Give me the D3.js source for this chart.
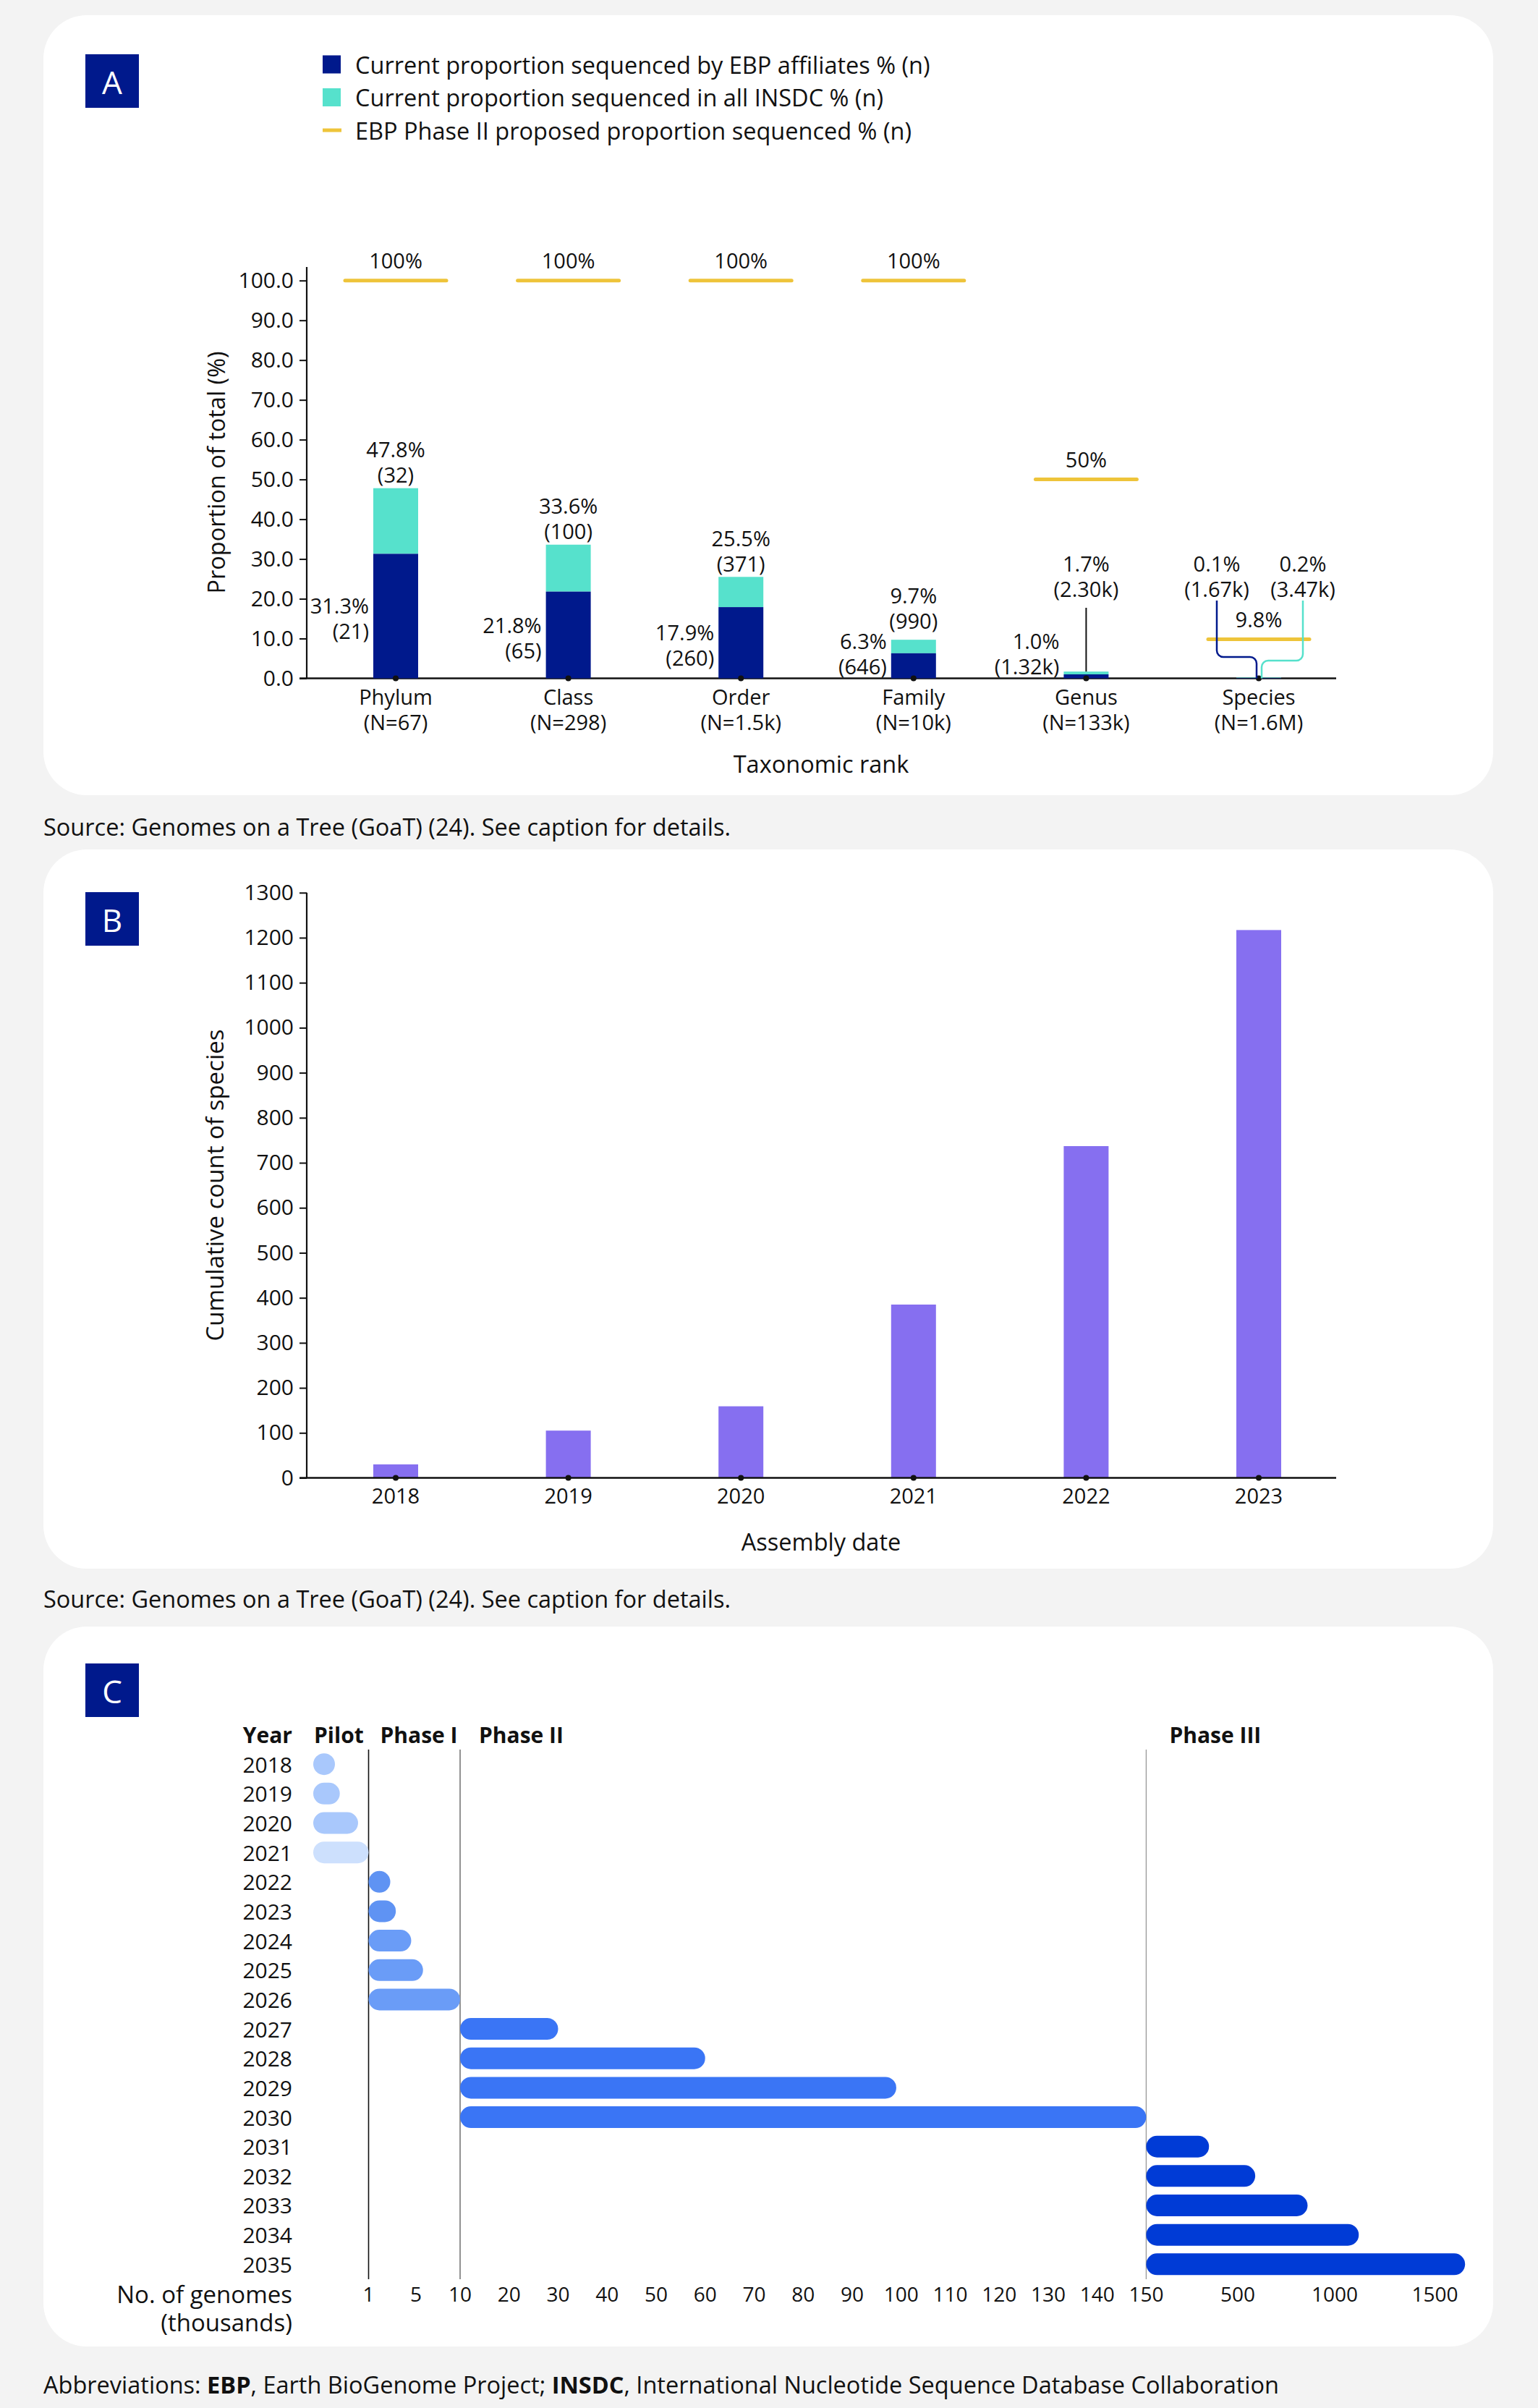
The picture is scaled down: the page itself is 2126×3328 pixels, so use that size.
<!doctype html>
<html>
<head>
<meta charset="utf-8">
<title>EBP progress and roadmap</title>
<style type="text/css">
body { margin: 0; background: #f3f3f3; }
svg { display: block; font-family: "Open Sans", sans-serif; }
</style>
<script src="https://cdnjs.cloudflare.com/ajax/libs/d3/7.8.5/d3.min.js"></script>
</head>
<body>
<script type="text/javascript">
var width = 2126, height = 3328;

// Panel A data
var ranks = ["Phylum", "Class", "Order", "Family", "Genus", "Species"];
var rankN = ["(N=67)", "(N=298)", "(N=1.5k)", "(N=10k)", "(N=133k)", "(N=1.6M)"];
var ebpPct = [31.3, 21.8, 17.9, 6.3, 1.0, 0.1];
var ebpN = ["21", "65", "260", "646", "1.32k", "1.67k"];
var insdcPct = [47.8, 33.6, 25.5, 9.7, 1.7, 0.2];
var insdcN = ["32", "100", "371", "990", "2.30k", "3.47k"];
var targetPct = [100, 100, 100, 100, 50, 9.8];
var pctTicks = [0, 10, 20, 30, 40, 50, 60, 70, 80, 90, 100];
var legendA = ["Current proportion sequenced by EBP affiliates % (n)",
               "Current proportion sequenced in all INSDC % (n)",
               "EBP Phase II proposed proportion sequenced % (n)"];

// Panel B data
var assemblyYears = ["2018", "2019", "2020", "2021", "2022", "2023"];
var speciesCount = [30, 105, 159, 385, 737, 1217];
var countTicks = [0, 100, 200, 300, 400, 500, 600, 700, 800, 900, 1000, 1100, 1200, 1300];

// Panel C data
var planYears = ["2018", "2019", "2020", "2021", "2022", "2023", "2024", "2025", "2026",
                 "2027", "2028", "2029", "2030", "2031", "2032", "2033", "2034", "2035"];
var planPhase = ["Pilot", "Pilot", "Pilot", "Pilot", "Phase I", "Phase I", "Phase I", "Phase I", "Phase I",
                 "Phase II", "Phase II", "Phase II", "Phase II", "Phase III", "Phase III", "Phase III", "Phase III", "Phase III"];
var planGenomes = [0.38, 0.48, 0.81, 1.0, 2.8, 3.3, 4.6, 5.8, 10,
                   30, 60, 99, 150, 390, 590, 860, 1120, 1650];
var phases = ["Pilot", "Phase I", "Phase II", "Phase III"];
var phaseStart = [0, 1, 10, 150];
var genomeTicks = [1, 5, 10, 20, 30, 40, 50, 60, 70, 80, 90, 100, 110, 120, 130, 140, 150, 500, 1000, 1500];

var navy = "#00198c", teal = "#56e1cc", gold = "#eec43a", purple = "#866ff0";
var phaseColour = { "Pilot": "#a9c8fc", "Phase I": "#6a9cf7", "Phase II": "#3a75f5", "Phase III": "#003bd6" };
var yearColour = { "2021": "#cde0fd", "2022": "#5f93f3", "2023": "#5f93f3" };

var svg = d3.select("body").append("svg")
    .attr("width", width)
    .attr("height", height);

svg.append("rect").attr("width", width).attr("height", height).attr("fill", "#f3f3f3");

// white cards
[[21, 1099], [1174, 2168], [2248, 3243]].forEach(function(c) {
  svg.append("rect")
    .attr("x", 60).attr("y", c[0])
    .attr("width", 2004).attr("height", c[1] - c[0])
    .attr("rx", 60).attr("fill", "#fff");
});

// panel letters
[["A", 75], ["B", 1233], ["C", 2299]].forEach(function(p) {
  svg.append("rect").attr("x", 118).attr("y", p[1]).attr("width", 74).attr("height", 74).attr("fill", navy);
  svg.append("text").attr("x", 155).attr("y", p[1] + 38)
    .attr("text-anchor", "middle").attr("dominant-baseline", "central")
    .attr("fill", "#fff").style("font-size", "44px").text(p[0]);
});

function note(y, parts) {
  var t = svg.append("text").attr("x", 60).attr("y", y)
    .attr("dominant-baseline", "central").style("font-size", "32.5px").attr("fill", "#111");
  parts.forEach(function(p) {
    t.append("tspan").style("font-weight", p[1] ? "700" : "400").text(p[0]);
  });
}
note(1142, [["Source: Genomes on a Tree (GoaT) (24). See caption for details.", false]]);
note(2209, [["Source: Genomes on a Tree (GoaT) (24). See caption for details.", false]]);
note(3295, [["Abbreviations: ", false], ["EBP", true], [", Earth BioGenome Project; ", false],
            ["INSDC", true], [", International Nucleotide Sequence Database Collaboration", false]]);

/* ---------------- Panel A ---------------- */
var gA = svg.append("g").style("font-size", "29px").attr("fill", "#111");
var xA = d3.scalePoint().domain(ranks).range([547, 1740]);
var yA = d3.scaleLinear().domain([0, 100]).range([937.5, 387.7]);
var barW = 62;

// legend
var leg = gA.append("g");
legendA.forEach(function(t, i) {
  var y = 89 + i * 45.5;
  if (i < 2) {
    leg.append("rect").attr("x", 446).attr("y", y - 12.5).attr("width", 25).attr("height", 25)
      .attr("fill", i === 0 ? navy : teal);
  } else {
    leg.append("line").attr("x1", 446).attr("x2", 472).attr("y1", y).attr("y2", y)
      .attr("stroke", gold).attr("stroke-width", 5);
  }
  leg.append("text").attr("x", 491).attr("y", y).attr("dominant-baseline", "central")
    .style("font-size", "32.5px").text(t);
});

var axA = gA.append("g").attr("transform", "translate(424,0)")
  .call(d3.axisLeft(yA).tickValues(pctTicks).tickFormat(d3.format(".1f")).tickSize(10).tickPadding(8));
axA.select(".domain").remove();
axA.selectAll("text").style("font-size", "30px").style("font-family", "Open Sans").attr("fill", "#111");
axA.selectAll("line").attr("stroke", "#111").attr("stroke-width", 2);
gA.append("line").attr("x1", 424).attr("x2", 424).attr("y1", 369).attr("y2", yA(0))
  .attr("stroke", "#111").attr("stroke-width", 2.2);
gA.append("line").attr("x1", 414).attr("x2", 1847).attr("y1", yA(0)).attr("y2", yA(0))
  .attr("stroke", "#111").attr("stroke-width", 2.5);

gA.append("text").attr("transform", "translate(298,653) rotate(-90)")
  .attr("text-anchor", "middle").attr("dominant-baseline", "central").style("font-size", "32.5px")
  .text("Proportion of total (%)");
gA.append("text").attr("x", 1135).attr("y", 1055).attr("text-anchor", "middle")
  .attr("dominant-baseline", "central").style("font-size", "32.5px").text("Taxonomic rank");

var cats = gA.selectAll(".cat").data(ranks).enter().append("g").attr("class", "cat");

cats.append("rect").attr("x", function(d) { return xA(d) - barW / 2; })
  .attr("y", function(d, i) { return yA(insdcPct[i]); })
  .attr("width", barW)
  .attr("height", function(d, i) { return yA(ebpPct[i]) - yA(insdcPct[i]); })
  .attr("fill", teal);
cats.append("rect").attr("x", function(d) { return xA(d) - barW / 2; })
  .attr("y", function(d, i) { return yA(ebpPct[i]); })
  .attr("width", barW)
  .attr("height", function(d, i) { return yA(0) - yA(ebpPct[i]); })
  .attr("fill", navy);

cats.append("circle").attr("cx", function(d) { return xA(d); }).attr("cy", yA(0)).attr("r", 4).attr("fill", "#111");

cats.append("text").attr("x", function(d) { return xA(d); }).attr("y", 962)
  .attr("text-anchor", "middle").attr("dominant-baseline", "central").text(function(d) { return d; });
cats.append("text").attr("x", function(d) { return xA(d); }).attr("y", 997)
  .attr("text-anchor", "middle").attr("dominant-baseline", "central").text(function(d, i) { return rankN[i]; });

// targets
cats.append("line")
  .attr("x1", function(d) { return xA(d) - 70; }).attr("x2", function(d) { return xA(d) + 70; })
  .attr("y1", function(d, i) { return yA(targetPct[i]); }).attr("y2", function(d, i) { return yA(targetPct[i]); })
  .attr("stroke", gold).attr("stroke-width", 5).attr("stroke-linecap", "round");
cats.append("text").attr("x", function(d) { return xA(d); })
  .attr("y", function(d, i) { return yA(targetPct[i]) - 28; })
  .attr("text-anchor", "middle").attr("dominant-baseline", "central")
  .text(function(d, i) { return targetPct[i] + "%"; });

function twoLine(g, x, yc, a, b, anchor) {
  g.append("text").attr("x", x).attr("y", yc - 17.5).attr("text-anchor", anchor)
    .attr("dominant-baseline", "central").text(a);
  g.append("text").attr("x", x).attr("y", yc + 17.5).attr("text-anchor", anchor)
    .attr("dominant-baseline", "central").text(b);
}

cats.each(function(d, i) {
  var g = d3.select(this), cx = xA(d);
  var split = ebpPct[i] < 0.5;
  if (!split) {
    var yc = Math.min(yA(ebpPct[i] / 2) + 3, 903);
    twoLine(g, cx - barW / 2 - 6, yc, ebpPct[i].toFixed(1) + "%", "(" + ebpN[i] + ")", "end");
  }
  if (insdcPct[i] >= 5) {
    // keep the total clear of the left-hand label on short bars
    var yt = Math.min(yA(insdcPct[i]) - 36.5, 840);
    twoLine(g, cx, yt, insdcPct[i].toFixed(1) + "%", "(" + insdcN[i] + ")", "middle");
  } else if (!split) {
    twoLine(g, cx, 796, insdcPct[i].toFixed(1) + "%", "(" + insdcN[i] + ")", "middle");
    g.append("line").attr("x1", cx).attr("x2", cx).attr("y1", 840).attr("y2", yA(insdcPct[i]))
      .attr("stroke", "#111").attr("stroke-width", 2);
  } else {
    // both values too small to see: call them out either side
    [[ebpN, ebpPct, -58, navy, 908, -3], [insdcN, insdcPct, 61, teal, 913, 4]].forEach(function(s) {
      var lx = cx + s[2];
      twoLine(g, lx, 796, s[1][i].toFixed(1) + "%", "(" + s[0][i] + ")", "middle");
      var p = d3.path(), xd = cx + s[5], r = 9;
      p.moveTo(lx, 830);
      p.arcTo(lx, s[4], xd, s[4], r);
      p.arcTo(xd, s[4], xd, yA(0), r);
      p.lineTo(xd, yA(0));
      g.append("path").attr("d", p.toString()).attr("fill", "none")
        .attr("stroke", s[3]).attr("stroke-width", 2.5);
    });
  }
});

/* ---------------- Panel B ---------------- */
var gB = svg.append("g").style("font-size", "29px").attr("fill", "#111");
var xB = d3.scalePoint().domain(assemblyYears).range([547, 1740]);
var yB = d3.scaleLinear().domain([0, 1300]).range([2042.5, 1233.75]);

gB.selectAll(".bar").data(speciesCount).enter().append("rect").attr("class", "bar")
  .attr("x", function(d, i) { return xB(assemblyYears[i]) - barW / 2; })
  .attr("y", function(d) { return yB(d); })
  .attr("width", barW)
  .attr("height", function(d) { return yB(0) - yB(d); })
  .attr("fill", purple);

var axB = gB.append("g").attr("transform", "translate(424,0)")
  .call(d3.axisLeft(yB).tickValues(countTicks).tickFormat(d3.format("d")).tickSize(10).tickPadding(8));
axB.select(".domain").remove();
axB.selectAll("text").style("font-size", "30px").style("font-family", "Open Sans").attr("fill", "#111");
axB.selectAll("line").attr("stroke", "#111").attr("stroke-width", 2);
gB.append("line").attr("x1", 424).attr("x2", 424).attr("y1", yB(1300)).attr("y2", yB(0))
  .attr("stroke", "#111").attr("stroke-width", 2.2);
gB.append("line").attr("x1", 414).attr("x2", 1847).attr("y1", yB(0)).attr("y2", yB(0))
  .attr("stroke", "#111").attr("stroke-width", 2.5);
gB.selectAll(".tk").data(assemblyYears).enter().append("circle")
  .attr("cx", function(d) { return xB(d); }).attr("cy", yB(0)).attr("r", 4).attr("fill", "#111");
gB.selectAll(".yl").data(assemblyYears).enter().append("text")
  .attr("x", function(d) { return xB(d); }).attr("y", 2066)
  .attr("text-anchor", "middle").attr("dominant-baseline", "central").text(function(d) { return d; });

gB.append("text").attr("transform", "translate(296,1638) rotate(-90)")
  .attr("text-anchor", "middle").attr("dominant-baseline", "central").style("font-size", "33px")
  .text("Cumulative count of species");
gB.append("text").attr("x", 1135).attr("y", 2130).attr("text-anchor", "middle")
  .attr("dominant-baseline", "central").style("font-size", "32.5px").text("Assembly date");

/* ---------------- Panel C ---------------- */
var gC = svg.append("g").style("font-size", "30px").attr("fill", "#111");
var xC = d3.scaleLinear()
  .domain([0, 1, 5, 10, 150, 500, 1000, 1500])
  .range([433, 509.5, 575, 636, 1584.4, 1711, 1845, 1983.6]);
var yC = d3.scalePoint().domain(planYears).range([2438.2, 3129.3]);
var rowH = 30;

// phase dividers
[[1, "#111", 1.6], [10, "#777", 1.6], [150, "#999", 1.3]].forEach(function(v) {
  gC.append("line").attr("x1", xC(v[0])).attr("x2", xC(v[0])).attr("y1", 2418).attr("y2", 3150)
    .attr("stroke", v[1]).attr("stroke-width", v[2]);
});

var headOffset = [1, 16, 26, 32];
gC.append("text").attr("x", 404).attr("y", 2397).attr("text-anchor", "end")
  .attr("dominant-baseline", "central").style("font-weight", "700").text("Year");
phases.forEach(function(p, i) {
  gC.append("text").attr("x", xC(phaseStart[i]) + headOffset[i]).attr("y", 2397)
    .attr("dominant-baseline", "central").style("font-weight", "700").text(p);
});

gC.selectAll(".yr").data(planYears).enter().append("text")
  .attr("x", 404).attr("y", function(d) { return yC(d); })
  .attr("text-anchor", "end").attr("dominant-baseline", "central").text(function(d) { return d; });

gC.selectAll(".pill").data(planGenomes).enter().append("rect").attr("class", "pill")
  .attr("x", function(d, i) { return xC(phaseStart[phases.indexOf(planPhase[i])]); })
  .attr("y", function(d, i) { return yC(planYears[i]) - rowH / 2; })
  .attr("width", function(d, i) {
    var s = phaseStart[phases.indexOf(planPhase[i])];
    return Math.max(xC(d) - xC(s), rowH);
  })
  .attr("height", rowH).attr("rx", rowH / 2)
  .attr("fill", function(d, i) { return yearColour[planYears[i]] || phaseColour[planPhase[i]]; });

gC.selectAll(".gt").data(genomeTicks).enter().append("text")
  .attr("x", function(d) { return xC(d); }).attr("y", 3170)
  .attr("text-anchor", "middle").attr("dominant-baseline", "central").style("font-size", "28px")
  .text(function(d) { return d; });
gC.append("text").attr("x", 404).attr("y", 3170).attr("text-anchor", "end")
  .attr("dominant-baseline", "central").style("font-size", "33px").text("No. of genomes");
gC.append("text").attr("x", 404).attr("y", 3209).attr("text-anchor", "end")
  .attr("dominant-baseline", "central").style("font-size", "33px").text("(thousands)");
</script>
</body>
</html>
